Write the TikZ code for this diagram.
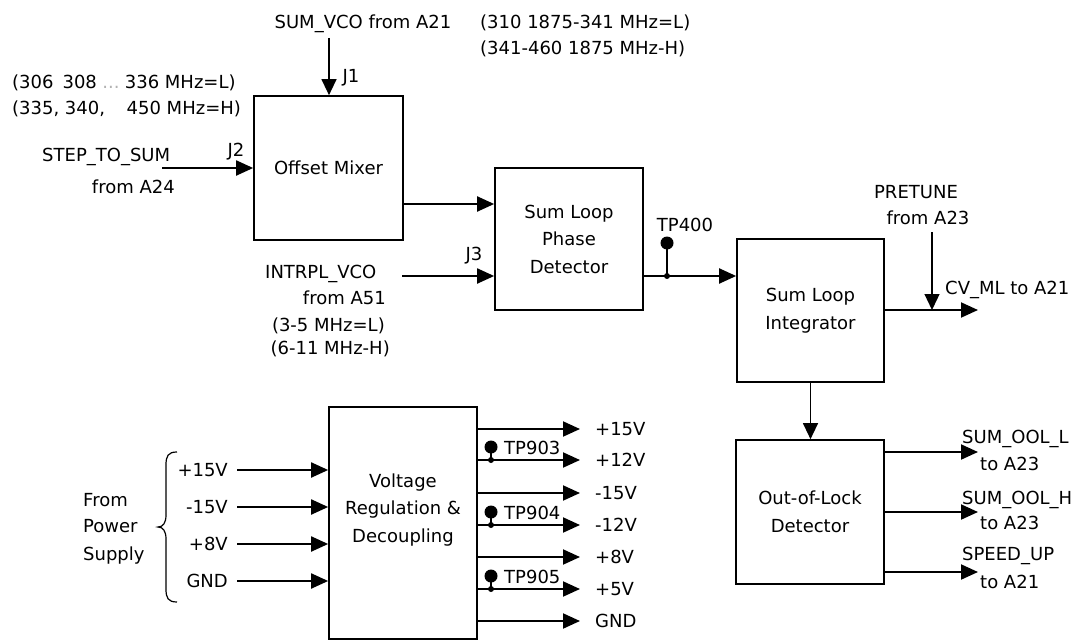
\documentclass[tikz,border=0pt]{standalone}
\usepackage{fontspec}
\setmainfont{DejaVu Sans}
\usetikzlibrary{arrows.meta}
\begin{document}
\begin{tikzpicture}[x=1pt,y=-1pt,
  every node/.style={font=\fontsize{18}{27.5}\selectfont, inner sep=0pt},
  txt/.style={text height=13pt, text depth=0pt},
  blk/.style={draw, line width=1.7pt, align=center},
  arr/.style={line width=2pt, -{Triangle[length=17pt,width=15pt]}},
  tarr/.style={line width=1.3pt, -{Triangle[length=16pt,width=15pt]}},
  tpdot/.style={circle, fill, minimum size=13pt},
  jn/.style={circle, fill, minimum size=6pt},
]
\path[use as bounding box] (0,0) rectangle (1079,642);

% blocks
\node[blk, minimum width=149pt, minimum height=144pt] (mix) at (328.5,168) {Offset Mixer};
\node[blk, minimum width=148pt, minimum height=142pt] (pd) at (569,239) {Sum Loop\\Phase\\Detector};
\node[blk, minimum width=147pt, minimum height=143pt] (int) at (810.5,310.5) {Sum Loop\\Integrator};
\node[blk, minimum width=148pt, minimum height=144pt] (ool) at (810,512) {Out-of-Lock\\Detector};
\node[blk, minimum width=148pt, minimum height=232pt] (vr) at (403,523) {};
\node[align=center] (vrt) at (403,510) {Voltage\\Regulation \&\\Decoupling};

% top inputs
\node[txt] (sumvco) at (363,22) {SUM\_VCO from A21};
\node[txt, anchor=west] (rangeL) at (480,22) {(310 1875-341 MHz=L)};
\node[txt, anchor=west] (rangeH) at (480,48) {(341-460 1875 MHz-H)};
\coordinate (j1s) at (329,38);
\draw[tarr] (j1s) -- (j1s |- mix.north);
\node[txt] (j1) at (351,76) {J1};

\node[txt, anchor=west] (stepL) at (12,82) {(306\hspace{0.5em}308\hspace{0.3em}{\color{gray!60}...}\hspace{0.3em}336 MHz=L)};
\node[txt, anchor=west] (stepH) at (12,108) {(335, 340,\hspace{1.2em}450 MHz=H)};
\node[txt, anchor=west] (step) at (42,155) {STEP\_TO\_SUM};
\node[txt, anchor=east] (stepfrom) at (175,187) {from A24};
\node[txt] (j2) at (236,150) {J2};
\coordinate (j2s) at (162,168);
\draw[arr] (j2s) -- (mix.west |- j2s);

% mixer to phase detector
\coordinate (m1) at (0,204);
\draw[arr] (mix.east |- m1) -- (pd.west |- m1);

% INTRPL_VCO
\node[txt, anchor=west] (intr) at (265,272) {INTRPL\_VCO};
\node[txt, anchor=east] (intrfrom) at (386,298) {from A51};
\node[txt, anchor=east] (intrL) at (385,325) {(3-5 MHz=L)};
\node[txt, anchor=east] (intrH) at (390,348) {(6-11 MHz-H)};
\node[txt] (j3) at (474,254) {J3};
\coordinate (j3s) at (402,276);
\draw[arr] (j3s) -- (pd.west |- j3s);

% phase detector to integrator, TP400
\coordinate (tpj) at (667,276);
\draw[arr] (pd.east |- tpj) -- (int.west |- tpj);
\node[tpdot] (tp400) at (667,243) {};
\draw[line width=1.2pt] (tpj) -- (tp400.center);
\node[jn] (tpjd) at (tpj) {};
\node[txt] (tp400l) at (685,225) {TP400};

% integrator output, PRETUNE
\coordinate (cvend) at (978,310);
\draw[arr] (int.east |- cvend) -- (cvend);
\node[txt] (pretune) at (916,192) {PRETUNE};
\node[txt] (pretunefrom) at (928,218) {from A23};
\coordinate (pts) at (932,232);
\draw[tarr] (pts) -- (pts |- cvend);
\node[txt, anchor=west] (cvml) at (945,288) {CV\_ML to A21};

% integrator to out-of-lock
\draw[tarr] (int.south) -- (int.south |- ool.north);

% out-of-lock outputs
\coordinate (o1) at (978,452);
\coordinate (o2) at (978,512);
\coordinate (o3) at (978,572);
\draw[arr] (ool.east |- o1) -- (o1);
\draw[arr] (ool.east |- o2) -- (o2);
\draw[arr] (ool.east |- o3) -- (o3);
\node[txt, anchor=west] (oolL) at (962,437) {SUM\_OOL\_L};
\node[txt, anchor=west] (oolLt) at (980,464) {to A23};
\node[txt, anchor=west] (oolH) at (962,498) {SUM\_OOL\_H};
\node[txt, anchor=west] (oolHt) at (980,523) {to A23};
\node[txt, anchor=west] (spd) at (962,554) {SPEED\_UP};
\node[txt, anchor=west] (spdt) at (980,582) {to A21};

% power inputs
\coordinate (i1) at (237,470);
\coordinate (i2) at (237,507);
\coordinate (i3) at (237,544);
\coordinate (i4) at (237,581);
\draw[arr] (i1) -- (vr.west |- i1);
\draw[arr] (i2) -- (vr.west |- i2);
\draw[arr] (i3) -- (vr.west |- i3);
\draw[arr] (i4) -- (vr.west |- i4);
\node[txt, anchor=east] (pin1) at (228,470) {+15V};
\node[txt, anchor=east] (pin2) at (228,507) {-15V};
\node[txt, anchor=east] (pin3) at (228,544) {+8V};
\node[txt, anchor=east] (pin4) at (228,581) {GND};
\node[txt, anchor=west] (fr1) at (83,500) {From};
\node[txt, anchor=west] (fr2) at (83,526) {Power};
\node[txt, anchor=west] (fr3) at (83,554) {Supply};
\draw[line width=1.2pt] (177,452) .. controls (168,452) and (166,456) .. (166,465)
  -- (166,515) .. controls (166,523) and (163,527) .. (158,527)
  .. controls (163,527) and (166,531) .. (166,539)
  -- (166,589) .. controls (166,598) and (168,602) .. (177,602);

% power outputs
\foreach \y/\lab [count=\k] in {429/+15V,460/+12V,493/-15V,525/-12V,557/+8V,589/+5V,621/GND}{
  \coordinate (v\k) at (580,\y);
  \draw[arr] (vr.east |- v\k) -- (v\k);
  \node[txt, anchor=west] (vl\k) at (595,\y) {\lab};
}
\foreach \y/\lab [count=\k] in {460/TP903,525/TP904,589/TP905}{
  \coordinate (tpb\k) at (491,\y);
  \node[tpdot] (tpd\k) at (491,\y-13) {};
  \draw[line width=1.2pt] (tpb\k) -- (tpd\k.center);
  \node[jn] (tpbd\k) at (tpb\k) {};
  \node[txt, anchor=west] (tpl\k) at (504,\y-12) {\lab};
}
\end{tikzpicture}
\end{document}
